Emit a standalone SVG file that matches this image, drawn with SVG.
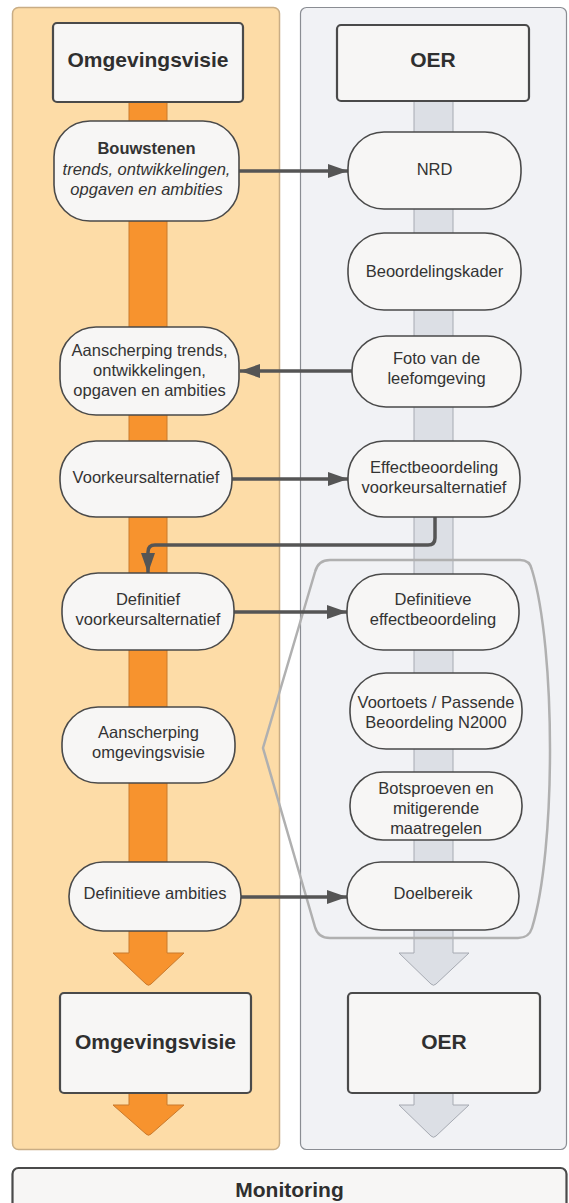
<svg xmlns="http://www.w3.org/2000/svg" width="569" height="1203" viewBox="0 0 569 1203">
<style>
.t{font-family:"Liberation Sans",Arial,sans-serif;font-size:16.5px;fill:#333;text-anchor:middle}
.b{font-weight:bold;font-size:21px;fill:#2f2f2f}
.bs{font-weight:bold}
.i{font-style:italic}
.node{fill:#f7f6f5;stroke:#4a4a4a;stroke-width:1.6}
.box{fill:#f7f6f5;stroke:#4a4a4a;stroke-width:2.2}
.conn{fill:none;stroke:#555;stroke-width:3.5}
</style>
<defs>
<marker id="ah" markerUnits="userSpaceOnUse" markerWidth="20" markerHeight="14" refX="20" refY="7" orient="auto">
<path d="M0,0 L20,7 L0,14 z" fill="#555"/>
</marker>
</defs>
<rect width="569" height="1203" fill="#ffffff"/>
<g id="panel-left">
<rect x="12.5" y="7.5" width="267" height="1142" rx="6" fill="#fddca7" stroke="#c9ad85" stroke-width="1.5"/>
<path d="M129,100 V953 H113 L146,984 Q148.5,986.5 151,984 L184,953 H167 V100 Z" fill="#f7932e" stroke="#c97a2c" stroke-width="1"/>
<path d="M129,1090 V1105 H113 L146,1134 Q148.5,1136.5 151,1134 L184,1105 H167 V1090 Z" fill="#f7932e" stroke="#c97a2c" stroke-width="1"/>
</g>
<g id="panel-right">
<rect x="300.5" y="7.5" width="266" height="1142" rx="6" fill="#f1f2f5" stroke="#8a8d93" stroke-width="1.2"/>
<path d="M414,100 V953 H399 L431,984 Q433.5,986.5 436,984 L469,953 H453 V100 Z" fill="#dcdfe5" stroke="#a6aab2" stroke-width="1"/>
<path d="M414,1090 V1105 H399 L431,1136 Q433.5,1138.5 436,1136 L469,1105 H453 V1090 Z" fill="#dcdfe5" stroke="#a6aab2" stroke-width="1"/>
</g>
<g id="bracket">
<path d="M330,560 H520 Q530,560 532,570 C556,650 556,850 532,928 Q529,938 518,938 H330 Q318,938 315,927 L263,748 L315,572 Q318,560 330,560 Z" fill="none" stroke="#b0b0b0" stroke-width="2.5"/>
</g>
<g id="connectors">
<path class="conn" d="M239,171 H348" marker-end="url(#ah)"/>
<path class="conn" d="M352,371 H240" marker-end="url(#ah)"/>
<path class="conn" d="M232,479 H348" marker-end="url(#ah)"/>
<path class="conn" d="M435,517 V538 Q435,545 428,545 H155 Q148,545 148,552 V573" marker-end="url(#ah)"/>
<path class="conn" d="M234,612 H347" marker-end="url(#ah)"/>
<path class="conn" d="M241,897 H347" marker-end="url(#ah)"/>
</g>
<g id="omgevingsvisie-top">
<rect class="box" x="53" y="23" width="190" height="79" rx="4"/>
<text class="t b" x="148" y="67">Omgevingsvisie</text>
</g>
<g id="oer-top">
<rect class="box" x="337" y="25" width="192" height="76" rx="4"/>
<text class="t b" x="433" y="67">OER</text>
</g>
<g id="bouwstenen">
<rect class="node" x="54" y="121" width="185" height="100" rx="36"/>
<text class="t bs" x="146.5" y="154">Bouwstenen</text>
<text class="t i" x="146.5" y="175">trends, ontwikkelingen,</text>
<text class="t i" x="146.5" y="195">opgaven en ambities</text>
</g>
<g id="nrd">
<rect class="node" x="348" y="132" width="173" height="77" rx="36"/>
<text class="t" x="434.5" y="175">NRD</text>
</g>
<g id="beoordelingskader">
<rect class="node" x="348" y="233" width="173" height="77" rx="36"/>
<text class="t" x="434.5" y="277">Beoordelingskader</text>
</g>
<g id="aanscherping-trends">
<rect class="node" x="60" y="327" width="179" height="88" rx="36"/>
<text class="t" x="149.5" y="356">Aanscherping trends,</text>
<text class="t" x="149.5" y="376">ontwikkelingen,</text>
<text class="t" x="149.5" y="396">opgaven en ambities</text>
</g>
<g id="foto">
<rect class="node" x="352" y="336" width="169" height="71" rx="34"/>
<text class="t" x="436.5" y="364">Foto van de</text>
<text class="t" x="436.5" y="384">leefomgeving</text>
</g>
<g id="voorkeursalternatief">
<rect class="node" x="60" y="441" width="172" height="76" rx="36"/>
<text class="t" x="146" y="483">Voorkeursalternatief</text>
</g>
<g id="effectbeoordeling-vka">
<rect class="node" x="348" y="441" width="172" height="76" rx="36"/>
<text class="t" x="434" y="473">Effectbeoordeling</text>
<text class="t" x="434" y="493">voorkeursalternatief</text>
</g>
<g id="definitief-vka">
<rect class="node" x="62" y="573" width="172" height="77" rx="36"/>
<text class="t" x="148" y="605">Definitief</text>
<text class="t" x="148" y="625">voorkeursalternatief</text>
</g>
<g id="definitieve-effectbeoordeling">
<rect class="node" x="347" y="574" width="172" height="76" rx="36"/>
<text class="t" x="433" y="605">Definitieve</text>
<text class="t" x="433" y="625">effectbeoordeling</text>
</g>
<g id="voortoets">
<rect class="node" x="350" y="673" width="172" height="76" rx="36"/>
<text class="t" x="436" y="708">Voortoets / Passende</text>
<text class="t" x="436" y="728">Beoordeling N2000</text>
</g>
<g id="aanscherping-omgevingsvisie">
<rect class="node" x="62" y="707" width="173" height="76" rx="36"/>
<text class="t" x="148.5" y="738">Aanscherping</text>
<text class="t" x="148.5" y="758">omgevingsvisie</text>
</g>
<g id="botsproeven">
<rect class="node" x="350" y="772" width="172" height="68" rx="33"/>
<text class="t" x="436" y="794">Botsproeven en</text>
<text class="t" x="436" y="814">mitigerende</text>
<text class="t" x="436" y="834">maatregelen</text>
</g>
<g id="definitieve-ambities">
<rect class="node" x="69" y="862" width="172" height="69" rx="34"/>
<text class="t" x="155" y="899">Definitieve ambities</text>
</g>
<g id="doelbereik">
<rect class="node" x="347" y="862" width="172" height="68" rx="34"/>
<text class="t" x="433" y="899">Doelbereik</text>
</g>
<g id="omgevingsvisie-bottom">
<rect class="box" x="60" y="993" width="191" height="100" rx="4"/>
<text class="t b" x="155.5" y="1049">Omgevingsvisie</text>
</g>
<g id="oer-bottom">
<rect class="box" x="348" y="993" width="192" height="100" rx="4"/>
<text class="t b" x="444" y="1049">OER</text>
</g>
<g id="monitoring">
<rect class="box" x="12.5" y="1168" width="554" height="50" rx="6"/>
<text class="t b" x="289.5" y="1197">Monitoring</text>
</g>
</svg>
